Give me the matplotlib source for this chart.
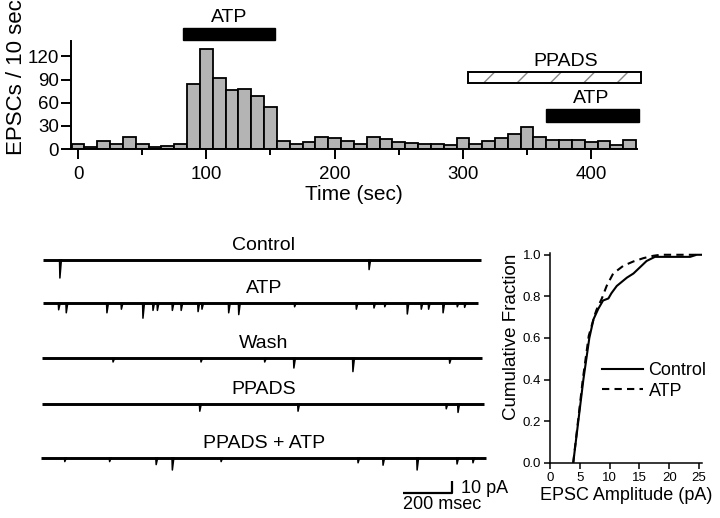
import numpy as np
import matplotlib.pyplot as plt
from matplotlib.patches import Rectangle

plt.rcParams['font.family'] = ['Liberation Sans', 'DejaVu Sans']

# --- histogram data: EPSC counts per 10 s bin (bins centred on 0, 10, ... 430 s)
bin_times = np.arange(0, 440, 10)
epsc_counts = [6, 3, 10, 6, 15, 7, 2, 4.5, 6, 84, 130, 92, 76, 78, 69, 55, 10, 7, 9, 15, 14, 10,
               7, 15, 13, 9.5, 8, 7, 6, 5, 14, 7, 10, 14, 19, 28, 15, 12, 12, 12, 9, 11, 5, 12]

# drug application periods (sec)
atp_period = (82, 153.5)
ppads_period = (304, 439)
atp_ppads_period = (365, 437)

# --- cumulative amplitude distributions
amp_ctrl = [3.9, 4.75, 5.6, 6.6, 7.3, 8.1, 8.9, 9.8, 10.3, 11.2, 12.9, 14.0, 15.1, 16.2, 17.6, 18.5, 23.5, 24.6, 25.4]
frac_ctrl = [0, 0.2, 0.40, 0.60, 0.69, 0.74, 0.78, 0.79, 0.815, 0.85, 0.89, 0.91, 0.94, 0.97, 0.99, 0.99, 0.99, 1.0, 1.0]
amp_atp = [3.9, 4.7, 5.5, 6.5, 7.5, 7.8, 8.7, 9.5, 10.6, 12.3, 14.0, 15.7, 17.3, 18.5, 25.4]
frac_atp = [0, 0.2, 0.40, 0.61, 0.71, 0.735, 0.79, 0.85, 0.91, 0.947, 0.968, 0.984, 0.995, 1.0, 1.0]

# --- example traces: event times (msec) and amplitudes (pA)
trace_names = ['Control', 'ATP', 'Wash', 'PPADS', 'PPADS + ATP']
trace_starts = [0, 0, -4, -2, -7]
trace_ends = [1788, 1776, 1792, 1799, 1809]
event_times = [
    [69, 1331],
    [64, 95, 261, 320, 408, 449, 467, 528, 564, 633, 649, 758, 799, 1027, 1279, 1351, 1395,
     1487, 1544, 1574, 1633, 1691, 1721],
    [286, 645, 905, 1024, 1265, 1660],
    [640, 1041, 1646, 1694],
    [89, 272, 462, 528, 727, 1286, 1388, 1527, 1690, 1755],
]
event_amps = [
    [15, 8],
    [5.5, 8, 8, 5, 12.5, 6, 6, 6, 6, 7, 5, 8, 9.5, 3, 5, 4, 3, 9, 5, 5, 8, 3, 3.5],
    [3, 3, 3, 8, 11, 4],
    [6, 6, 4, 7],
    [3, 3, 5.5, 10, 3, 4, 6, 10, 5, 4],
]

# layout: vertical stacking of the traces (pA) and scale bar size
trace_offsets = [0, -36, -82, -120, -165]
scale_t, scale_i = 200, 10

fig = plt.figure(figsize=(7.2, 5.18), dpi=100)

# ---------------- top: histogram
ax = fig.add_axes([71 / 720, 1 - 149 / 518, 566 / 720, 108 / 518])
ax.bar(bin_times, epsc_counts, width=10, color='#b4b4b4', edgecolor='black', linewidth=1.3)
ax.set_xlim(-5.5, 435.7)
ax.set_ylim(0, 140)
ax.set_xticks([0, 100, 200, 300, 400])
ax.set_xticks([50, 150, 250, 350], minor=True)
ax.set_yticks([0, 30, 60, 90, 120])
ax.tick_params(axis='x', which='major', length=7.5, width=1.4, labelsize=13.5, pad=5)
ax.tick_params(axis='x', which='minor', length=4, width=1.4)
ax.tick_params(axis='y', length=7.5, width=1.4, labelsize=13.5, pad=1)
for s in ['top', 'right']:
    ax.spines[s].set_visible(False)
for s in ['left', 'bottom']:
    ax.spines[s].set_linewidth(1.4)
ax.set_xlabel('Time (sec)', fontsize=15, labelpad=1)
ax.set_ylabel('EPSCs / 10 sec', fontsize=16)
ax.yaxis.set_label_coords(-0.078, 0.67)

# treatment bars
ax.add_patch(Rectangle((atp_period[0], 141), atp_period[1] - atp_period[0], 16.5,
                       facecolor='black', edgecolor='black', clip_on=False))
ax.text(np.mean(atp_period), 171, 'ATP', ha='center', va='center', fontsize=14)
ax.add_patch(Rectangle((ppads_period[0], 85.3), ppads_period[1] - ppads_period[0], 15,
                       facecolor='white', edgecolor='#888888', hatch='/', linewidth=0,
                       clip_on=False))
ax.add_patch(Rectangle((ppads_period[0], 85.3), ppads_period[1] - ppads_period[0], 15,
                       facecolor='none', edgecolor='black', linewidth=1.4, clip_on=False))
ax.text(380, 114, 'PPADS', ha='center', va='center', fontsize=14)
ax.add_patch(Rectangle((atp_ppads_period[0], 35.5), atp_ppads_period[1] - atp_ppads_period[0], 16.5,
                       facecolor='black', edgecolor='black', clip_on=False))
ax.text(np.mean(atp_ppads_period) - 1, 65, 'ATP', ha='center', va='center', fontsize=14)

# ---------------- bottom left: traces
axt = fig.add_axes([40 / 720, 0, 450 / 720, 288 / 518])
axt.set_xlim(-12.2, 1824.5)
axt.set_ylim(-215, 25)
axt.axis('off')
for name, off, t0, t_end, ev_t, ev_a in zip(trace_names, trace_offsets, trace_starts, trace_ends,
                                            event_times, event_amps):
    # baseline drawn thick (noise band), events as thin spikes
    axt.plot([t0, t_end], [off, off], color='black', linewidth=2.1, solid_capstyle='butt')
    for t, a in zip(ev_t, ev_a):
        axt.plot([t - 1.5, t, t + 6], [off, off - a, off], color='black', linewidth=1.1)
    axt.text(902, off + 12.5, name, ha='center', va='center', fontsize=14)

# scale bar
sb_x, sb_y = 1469, -194.4
axt.plot([sb_x, sb_x + scale_t, sb_x + scale_t], [sb_y, sb_y, sb_y + scale_i],
         color='black', linewidth=1.6, solid_capstyle='butt')
axt.text(sb_x + scale_t + 36, sb_y + 4, '10 pA', ha='left', va='center', fontsize=13)
axt.text(sb_x + scale_t - 38, sb_y - 9.5, '200 msec', ha='center', va='center', fontsize=13)

# ---------------- bottom right: cumulative fraction
axc = fig.add_axes([550 / 720, 1 - 462.7 / 518, 151.7 / 720, 210 / 518])
axc.plot(amp_ctrl, frac_ctrl, color='black', linewidth=1.5, label='Control')
axc.plot(amp_atp, frac_atp, color='black', linewidth=1.5, linestyle=(0, (3.5, 2.5)), label='ATP')
axc.set_xlim(0, 25.45)
axc.set_ylim(0, 1.01)
axc.set_xticks([0, 5, 10, 15, 20, 25])
axc.set_yticks([0, 0.2, 0.4, 0.6, 0.8, 1.0])
axc.yaxis.set_major_formatter(plt.FormatStrFormatter('%.1f'))
axc.tick_params(length=4, width=1.1, labelsize=9.5, pad=2.5)
for s in ['top', 'right']:
    axc.spines[s].set_visible(False)
for s in ['left', 'bottom']:
    axc.spines[s].set_linewidth(1.1)
axc.set_xlabel('EPSC Amplitude (pA)', fontsize=13, labelpad=2)
axc.set_ylabel('Cumulative Fraction', fontsize=13.5)
axc.yaxis.set_label_coords(-0.195, 0.60)
axc.legend(loc='center left', bbox_to_anchor=(0.34, 0.39), frameon=False, fontsize=13,
           handlelength=2.3, handletextpad=0.3, borderpad=0, borderaxespad=0, labelspacing=0.2)

fig.savefig('out.png', dpi=100)
